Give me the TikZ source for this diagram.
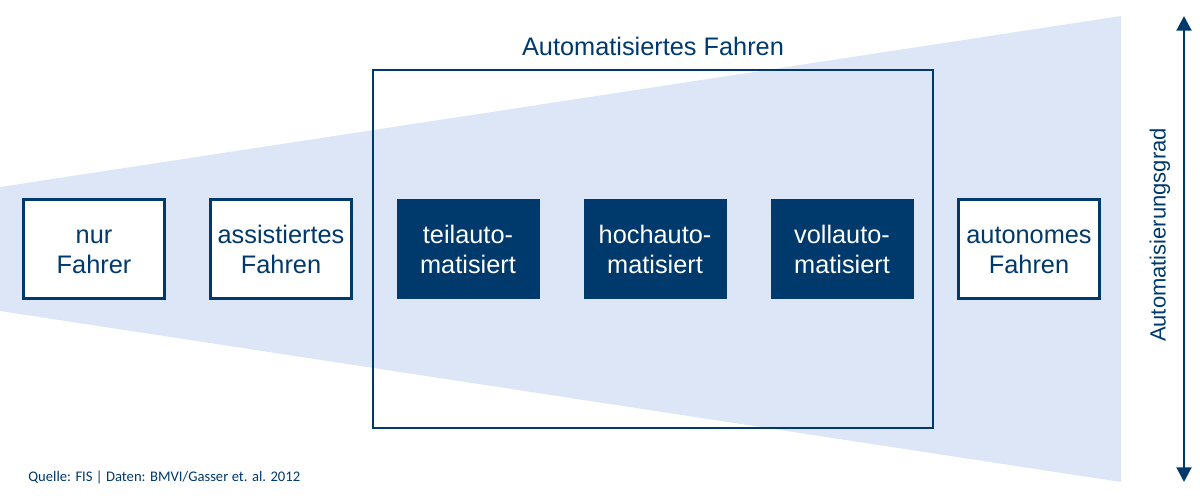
\documentclass[tikz,border=0pt]{standalone}
\usepackage{fontspec}
\setmainfont{Liberation Sans}
\newfontfamily\sourcefont{Carlito}
\usepackage{xcolor}
\definecolor{colorDark}{RGB}{0,57,107}
\definecolor{colorWedge}{RGB}{221,230,246}
\usepackage{tikz}
\usetikzlibrary{arrows.meta, positioning}
\tikzset{
  stage/.style={draw=colorDark, fill=white, line width=1.8pt, minimum width=106pt, minimum height=74pt, inner sep=0pt, text height=37.5pt, text depth=0pt, align=center, text=colorDark, font=\fontsize{19}{22.5}\selectfont},
  autostage/.style={stage, draw=none, fill=colorDark, text=white, minimum width=107.25pt, minimum height=75pt},
  heading/.style={inner sep=0pt, text=colorDark, font=\fontsize{19}{22.5}\selectfont}
}

\begin{document}
\begin{tikzpicture}[x=0.75pt, y=-0.75pt, >={Triangle[length=11pt, width=11pt]}, node distance=140.25pt]
\useasboundingbox (0,0) rectangle (1200,498);
\fill[colorWedge] (0,187) -- (1121,16) -- (1121,482) -- (0,311) -- cycle;
\node[draw=colorDark, line width=1.5pt, minimum width=420pt, minimum height=268.5pt] (frame) at (653,249) {};
\node[heading, above=10pt of frame] (frametitle) {Automatisiertes Fahren};
\node[stage] (driver) at (94,249) {nur\\Fahrer};
\node[stage, right of=driver] (assisted) {assistiertes\\Fahren};
\node[autostage, right of=assisted] (partial) {teilauto-\\matisiert};
\node[autostage, right of=partial] (high) {hochauto-\\matisiert};
\node[autostage, right of=high] (full) {vollauto-\\matisiert};
\node[stage, right of=full] (autonomous) {autonomes\\Fahren};
% Automatisierungsgrad
\coordinate (gradtop) at (1184,16);
\coordinate (gradbottom) at (1184,482);
\draw[<->, colorDark, line width=2.2pt] (gradbottom) -- (gradtop);
\node[heading, rotate=90, font=\fontsize{16.5}{20}\selectfont] (gradlabel) at (1160,235) {Automatisierungsgrad};
\node[anchor=base west, inner sep=0pt, text=colorDark, font=\sourcefont\fontsize{11}{13}\selectfont] (source) at (28,482) {Quelle: FIS | Daten: BMVI/Gasser et. al. 2012};
\end{tikzpicture}
\end{document}
